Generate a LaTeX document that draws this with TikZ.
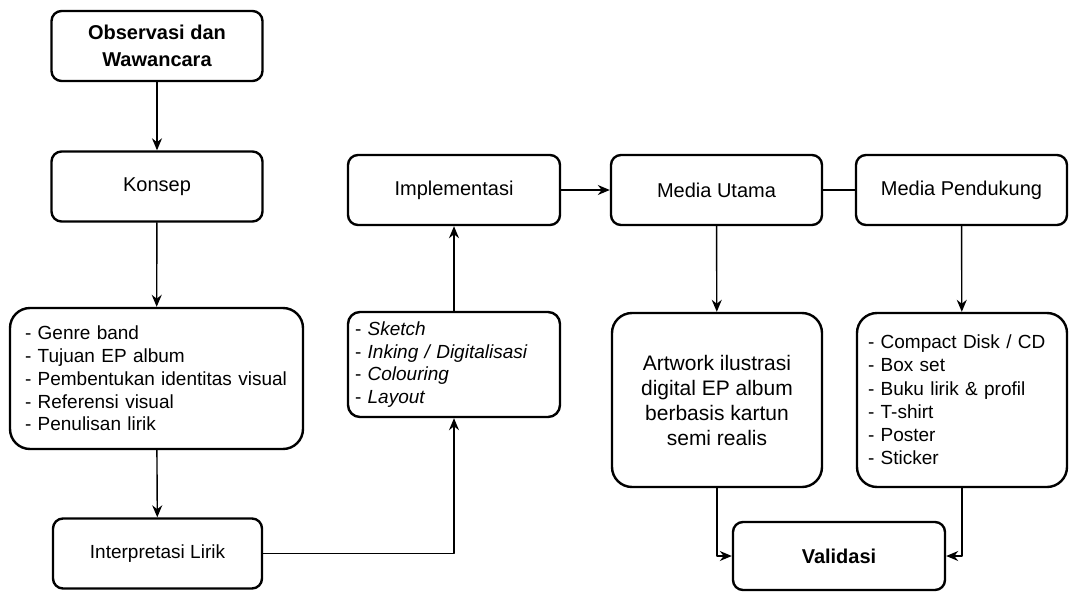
\documentclass[tikz,border=0pt]{standalone}
\usepackage{fontspec}
\setmainfont{Liberation Sans}
\usetikzlibrary{positioning,arrows.meta}

\begin{document}
\begin{tikzpicture}[x=1pt,y=-1pt, font=\fontsize{20}{24}\selectfont, line cap=round, line join=round]
	\useasboundingbox (0,0) rectangle (1069,592);
	
	% ===== style kotak & panah =====
	\tikzset{kotak/.style={draw=black, line width=2.4pt, rounded corners=10pt, minimum width=211pt, minimum height=70pt, align=center, inner sep=0pt},
		kotakbesar/.style={kotak, rounded corners=20pt},
		daftar/.style={kotakbesar, align=left, font=\fontsize{19}{22.8}\selectfont},
		panah/.style={line width=1.4pt, -{Stealth[length=12pt,width=10pt]}},
		garis/.style={line width=1.4pt}}
	
	% ===== kolom kiri =====
	\node[kotak, font=\fontsize{20}{27}\selectfont\bfseries] (obs) at (157,46) {Observasi dan\\Wawancara};
	\node[kotak] (konsep) at (157,186.5) {Konsep};
	\node[daftar, minimum width=293pt, minimum height=141pt, text width=263pt, inner xsep=15pt] (genre) at (156.5,378.5)
	{- Genre band\\- Tujuan EP album\\- Pembentukan identitas visual\\- Referensi visual\\- Penulisan lirik};
	\node[kotak, minimum width=209pt, font=\fontsize{19}{23}\selectfont] (lirik) at (157.5,553.5) {Interpretasi Lirik};
	
	% ===== kolom tengah =====
	\node[kotak, minimum width=212pt] (impl) at (454,190) {Implementasi};
	\node[daftar, minimum width=212pt, minimum height=105pt, rounded corners=12pt, text width=198pt, inner xsep=7pt] (tahap) at (454,364.5)
	{- \textit{Sketch}\\- \textit{Inking / Digitalisasi}\\- \textit{Colouring}\\- \textit{Layout}};
	
	% ===== kolom kanan =====
	\node[kotak] (utama) at (716.5,190) {Media Utama};
	\node[kotak] (dukung) at (961.5,190) {Media Pendukung};
	\node[kotakbesar, minimum width=210pt, minimum height=174pt, font=\fontsize{21}{25}\selectfont] (artwork) at (717,400)
	{Artwork ilustrasi\\digital EP album\\berbasis kartun\\semi realis};
	\node[daftar, minimum width=210pt, minimum height=174pt, text width=188pt, inner xsep=11pt, font=\fontsize{19}{23.2}\selectfont] (produk) at (962,400)
	{- Compact Disk / CD\\- Box set\\- Buku lirik \& profil\\- T-shirt\\- Poster\\- Sticker};
	\node[kotak, minimum width=212pt, minimum height=68pt, font=\fontsize{20}{24}\selectfont\bfseries] (valid) at (839,556) {Validasi};
	
	% ===== panah =====
	\foreach \a/\b in {obs/konsep, konsep/genre, genre/lirik, tahap/impl, utama/artwork, dukung/produk}{
		\draw[panah] (\a) -- (\b);
	}
	\draw[panah] (lirik.east) -| (tahap.south);
	\draw[panah] (impl) -- (utama);
	\draw[garis] (utama) -- (dukung);
	\draw[panah] (artwork.south) |- (valid.west);
	\draw[panah] (produk.south) |- (valid.east);
\end{tikzpicture}
\end{document}
